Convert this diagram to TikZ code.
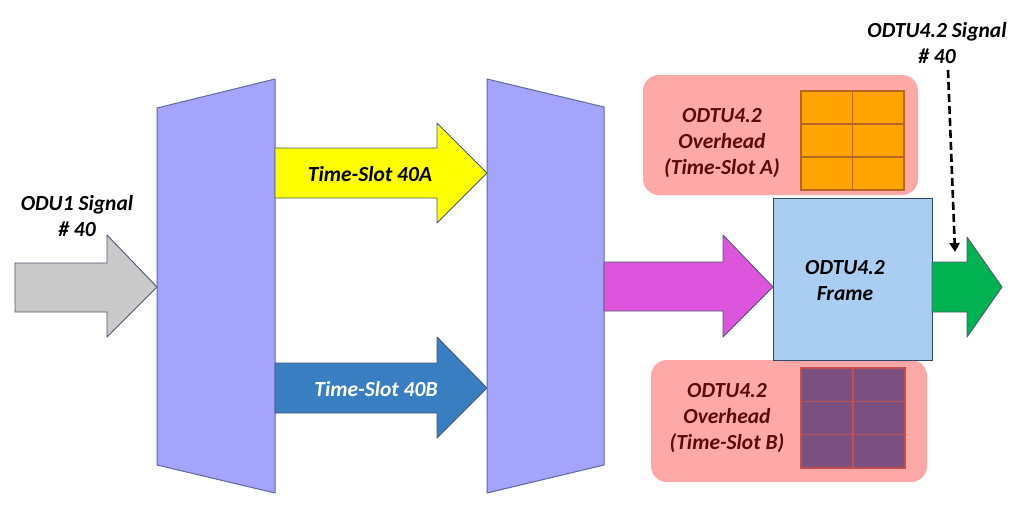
\documentclass[tikz,border=0pt]{standalone}
\usepackage{fontspec}
\setmainfont{Carlito}
\usetikzlibrary{arrows.meta}
\definecolor{trapfill}{HTML}{A4A4FC}
\definecolor{trapline}{HTML}{5B6B9C}
\definecolor{edge}{HTML}{4B5A72}
\definecolor{grayarr}{HTML}{C9C9C9}
\definecolor{yelarr}{HTML}{FFFF00}
\definecolor{bluearr}{HTML}{3A7EC2}
\definecolor{magarr}{HTML}{DD55DD}
\definecolor{grnarr}{HTML}{00B350}
\definecolor{framefill}{HTML}{A9CEF1}
\definecolor{framedge}{HTML}{2F4A6E}
\definecolor{pinkbox}{HTML}{FFA8A8}
\definecolor{maroon}{HTML}{5A0A0A}
\definecolor{orcell}{HTML}{FFA400}
\definecolor{orcellb}{HTML}{B8651E}
\definecolor{pucell}{HTML}{7B4F80}
\definecolor{pucellb}{HTML}{C0504D}
\tikzset{
  lbl/.style={font=\fontsize{21.5}{26}\selectfont\bfseries\itshape, align=center, inner sep=0pt},
  blockarrow/.style={draw=edge, line width=0.9pt, line join=round},
  trap/.style={fill=trapfill, draw=trapline, line width=1pt, line join=round},
  pink/.style={fill=pinkbox, rounded corners=16pt},
  ocell/.style={fill=orcell, draw=orcellb, line width=1.4pt},
  pcell/.style={fill=pucell, draw=pucellb, line width=1.4pt},
}
\begin{document}
\begin{tikzpicture}[x=1pt,y=-1pt]
\useasboundingbox[fill=white] (0,0) rectangle (1024,517);

% pink overhead boxes
\fill[pink] (643,75) rectangle (918,195);
\fill[pink] (651,360) rectangle (927,482);

% orange cells
\foreach \c in {0,1}{\foreach \r in {0,1,2}{
  \draw[ocell] ({801+\c*51.5},{91+\r*33}) rectangle ++(51.5,33);}}
% purple cells
\foreach \c in {0,1}{\foreach \r in {0,1,2}{
  \draw[pcell] ({801+\c*52},{368+\r*33.3}) rectangle ++(52,33.3);}}

\node[lbl, text=maroon] (ohA) at (722,143) {ODTU4.2\\Overhead\\(Time-Slot A)};
\node[lbl, text=maroon] (ohB) at (727,418) {ODTU4.2\\Overhead\\(Time-Slot B)};

% gray input arrow
\draw[blockarrow, fill=grayarr] (15,263) -- (107,263) -- (107,235) -- (157,287) -- (107,337) -- (107,312) -- (15,312) -- cycle;
\node[lbl] (in) at (77,216) {ODU1 Signal\\\# 40};

% left trapezoid
\draw[trap] (157,108) -- (275,79) -- (275,493) -- (157,465) -- cycle;

% yellow arrow
\draw[blockarrow, fill=yelarr] (275,148) -- (437,148) -- (437,123) -- (487,173) -- (437,223) -- (437,198) -- (275,198) -- cycle;
\node[lbl] (tsA) at (370,174) {Time-Slot 40A};

% blue arrow
\draw[blockarrow, fill=bluearr] (275,363) -- (437,363) -- (437,337) -- (487,388) -- (437,438) -- (437,413) -- (275,413) -- cycle;
\node[lbl, text=white] (tsB) at (376,389) {Time-Slot 40B};

% right trapezoid
\draw[trap] (487,79) -- (604,107) -- (604,465) -- (487,493) -- cycle;

% magenta arrow
\draw[blockarrow, fill=magarr] (604,262) -- (723,262) -- (723,235) -- (773,287) -- (723,337) -- (723,311) -- (604,311) -- cycle;

% frame box
\node[draw=framedge, fill=framefill, line width=1pt, minimum width=159pt, minimum height=162pt, inner sep=0pt] (frame) at (852.5,279) {};
\node[lbl] (frametxt) at (845,281) {ODTU4.2\\Frame};

% green arrow
\draw[blockarrow, fill=grnarr] (932,262) -- (967,262) -- (967,237) -- (1002,287) -- (967,337) -- (967,312) -- (932,312) -- cycle;
\coordinate (gtop) at (955,252);

% output signal label + dashed pointer
\node[lbl] (sig) at (937,43) {ODTU4.2 Signal\\\# 40};
\coordinate (sigfoot) at (948,70);
\draw[line width=2.6pt, dash pattern=on 8pt off 4pt, -{Triangle[length=9pt,width=10pt]}] (sigfoot) -- (gtop);
\end{tikzpicture}
\end{document}
